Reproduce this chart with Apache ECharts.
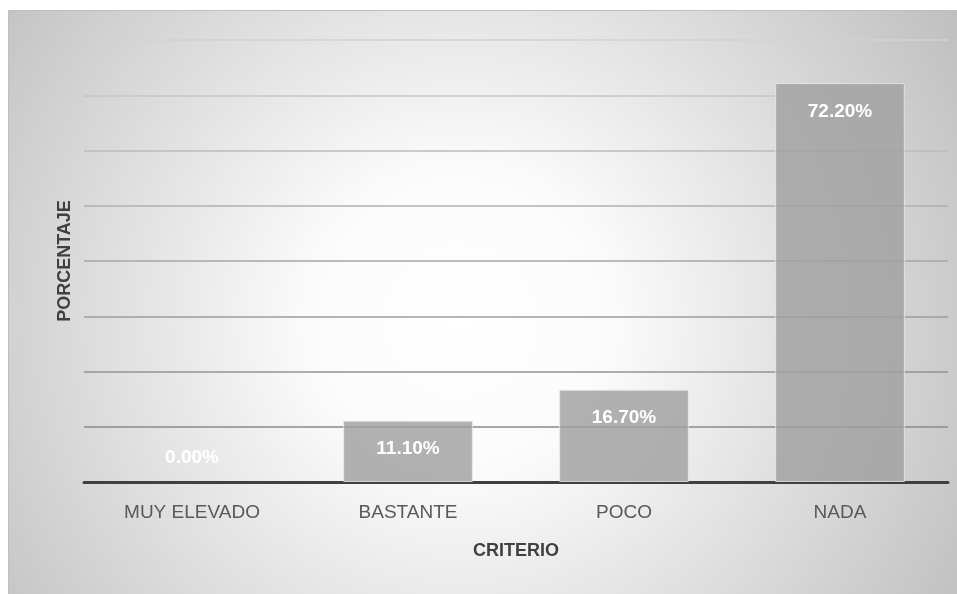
<!DOCTYPE html>
<html>
<head>
<meta charset="utf-8">
<script src="https://cdn.jsdelivr.net/npm/echarts@6/dist/echarts.min.js"></script>
<style>
html,body{margin:0;padding:0;background:#fff;overflow:hidden;}
#chart{width:957px;height:594px;}
</style>
</head>
<body>
<div id="chart"></div>
<script>
const categories = ['MUY ELEVADO', 'BASTANTE', 'POCO', 'NADA'];
const values = [0.0, 11.1, 16.7, 72.2];
const xAxisTitle = 'CRITERIO';
const yAxisTitle = 'PORCENTAJE';

const FONT = '"Liberation Sans", Arial, sans-serif';
const chart = echarts.init(document.getElementById('chart'));

const seriesData = values.map(v => v === 0
  ? { value: v, itemStyle: { borderWidth: 0 }, label: { position: 'top', distance: 15 } }
  : v);

chart.setOption({
  backgroundColor: '#ffffff',
  animation: false,
  graphic: [{
    type: 'rect',
    z: -100,
    silent: true,
    shape: { x: 8.5, y: 10.5, width: 960, height: 600 },
    style: {
      fill: {
        type: 'radial', global: true, x: 460, y: 320, r: 600,
        colorStops: [
          { offset: 0, color: '#ffffff' },
          { offset: 0.25, color: '#fbfbfb' },
          { offset: 1, color: '#bdbdbd' }
        ]
      },
      stroke: '#bfbfbf',
      lineWidth: 1
    }
  }],
  grid: { left: 84, right: 9, top: 40, bottom: 112, containLabel: false },
  xAxis: {
    type: 'category',
    data: categories,
    name: xAxisTitle,
    nameLocation: 'middle',
    nameGap: 60,
    nameTextStyle: { fontFamily: FONT, fontSize: 18, fontWeight: 'bold', color: '#404040' },
    axisLine: { lineStyle: { color: '#404040', width: 3 } },
    axisTick: { show: false },
    axisLabel: { fontFamily: FONT, fontSize: 19, color: '#595959', margin: 21 }
  },
  yAxis: {
    type: 'value',
    min: 0, max: 80, interval: 10,
    name: yAxisTitle,
    nameLocation: 'middle',
    nameRotate: 90,
    nameGap: 10,
    nameTextStyle: { fontFamily: FONT, fontSize: 18, fontWeight: 'bold', color: '#404040' },
    axisLine: { show: false },
    axisTick: { show: false },
    axisLabel: { show: false },
    splitLine: {
      lineStyle: {
        width: 1.5,
        color: ['#8a8a8a', '#8a8a8a', '#939393', '#9c9c9c', '#a6a6a6', '#b0b0b0', '#bbbbbb', '#c6c6c6', '#d2d2d2']
      }
    }
  },
  series: [{
    type: 'bar',
    data: seriesData,
    barWidth: '60%',
    itemStyle: {
      color: 'rgba(160,160,160,0.82)',
      borderColor: 'rgba(235,235,235,0.8)',
      borderWidth: 1
    },
    label: {
      show: true,
      position: 'insideTop',
      distance: 19,
      fontFamily: FONT,
      fontSize: 19,
      fontWeight: 'bold',
      color: '#ffffff',
      formatter: p => p.value.toFixed(2) + '%'
    }
  }]
});
</script>
</body>
</html>
